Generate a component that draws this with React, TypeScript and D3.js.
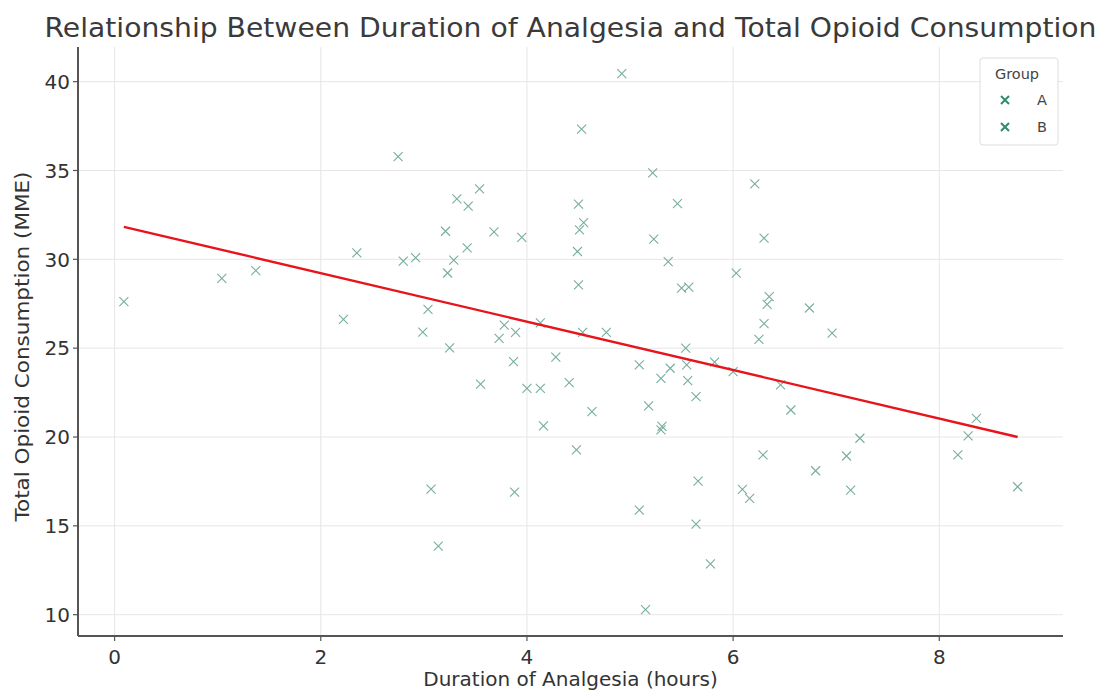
import React from "react";
import * as d3 from "d3";

// hours of analgesia and opioid consumption (MME)
const duration = [
  0.09, 1.04, 1.37, 2.22, 2.35, 2.75, 2.8, 2.92, 2.99, 3.04,
  3.07, 3.14, 3.21, 3.23, 3.25, 3.29, 3.32, 3.43, 3.42, 3.54,
  3.55, 3.68, 3.73, 3.78, 3.87, 3.89, 3.88, 3.95, 4.0, 4.13,
  4.13, 4.16, 4.28, 4.41, 4.48, 4.49, 4.5, 4.5, 4.51, 4.55,
  4.53, 4.54, 4.63, 4.77, 4.92, 5.09, 5.09, 5.15, 5.18, 5.22,
  5.23, 5.3, 5.31, 5.3, 5.37, 5.39, 5.46, 5.5, 5.57, 5.54,
  5.55, 5.56, 5.64, 5.66, 5.64, 5.78, 5.82, 6.0, 6.03, 6.09,
  6.16, 6.21, 6.25, 6.29, 6.3, 6.3, 6.33, 6.35, 6.46, 6.56,
  6.74, 6.8, 6.96, 7.1, 7.14, 7.23, 8.18, 8.28, 8.36, 8.76,
];
const consumption = [
  27.62, 28.93, 29.37, 26.62, 30.36, 35.78, 29.9, 30.09, 25.9, 27.18,
  17.07, 13.86, 31.58, 29.23, 25.01, 29.95, 33.4, 32.99, 30.64, 33.96,
  22.98, 31.54, 25.55, 26.3, 24.24, 25.89, 16.9, 31.23, 22.74, 22.74,
  26.42, 20.62, 24.49, 23.06, 19.27, 30.44, 28.56, 33.11, 31.66, 32.07,
  37.33, 25.89, 21.43, 25.89, 40.45, 24.06, 15.89, 10.29, 21.75, 34.86,
  31.14, 20.4, 20.6, 23.3, 29.87, 23.87, 33.13, 28.38, 28.43, 25.0,
  24.06, 23.17, 22.27, 17.52, 15.1, 12.86, 24.21, 23.68, 29.22, 17.05,
  16.55, 34.25, 25.5, 18.99, 26.38, 31.19, 27.46, 27.9, 22.93, 21.52,
  27.26, 18.1, 25.85, 18.93, 17.01, 19.93, 18.99, 20.06, 21.05, 17.2,
];

// fitted line end points
const fitX = [0.09, 8.76];
const fitY = [31.83, 20.0];

const groups = ["A", "B"];
const xTicks = [0, 2, 4, 6, 8];
const yTicks = [10, 15, 20, 25, 30, 35, 40];

const W = 1101;
const H = 690;
const margin = { top: 47, right: 38, bottom: 54, left: 78 };
const font = "DejaVu Sans, sans-serif";
const pointColor = "#5f9f8f";
const legendColor = "#2f8a70";

export default function App() {
  const innerW = W - margin.left - margin.right;
  const innerH = H - margin.top - margin.bottom;

  const x = d3.scaleLinear().domain([-0.355, 9.2]).range([0, innerW]);
  const y = d3.scaleLinear().domain([8.8, 41.95]).range([innerH, 0]);

  const line = d3
    .line<number>()
    .x((d) => x(fitX[d]))
    .y((d) => y(fitY[d]));

  const s = 4.5; // half size of the x marker

  return (
    <svg
      width={W}
      height={H}
      style={{ position: "absolute", left: 0, top: 0, background: "#fff" }}
      fontFamily={font}
    >
      <text
        x={margin.left + innerW / 2}
        y={37}
        textAnchor="middle"
        fontSize={26.5}
        textLength={1052}
        lengthAdjust="spacingAndGlyphs"
        fill="#3a3a3a"
      >
        Relationship Between Duration of Analgesia and Total Opioid Consumption
      </text>

      <g transform={`translate(${margin.left},${margin.top})`}>
        {/* grid */}
        {xTicks.map((t) => (
          <line key={"gx" + t} x1={x(t)} x2={x(t)} y1={0} y2={innerH} stroke="#e6e6e6" />
        ))}
        {yTicks.map((t) => (
          <line key={"gy" + t} x1={0} x2={innerW} y1={y(t)} y2={y(t)} stroke="#e6e6e6" />
        ))}

        {/* points */}
        {duration.map((d, i) => {
          const cx = x(d);
          const cy = y(consumption[i]);
          return (
            <path
              key={i}
              d={`M${cx - s},${cy - s}L${cx + s},${cy + s}M${cx - s},${cy + s}L${cx + s},${cy - s}`}
              stroke={pointColor}
              strokeWidth={1.1}
              strokeOpacity={0.85}
              fill="none"
            />
          );
        })}

        {/* regression line */}
        <path d={line([0, 1]) || ""} stroke="#e8141c" strokeWidth={2.4} fill="none" />

        {/* axes */}
        <line x1={0} x2={0} y1={0} y2={innerH} stroke="#555" strokeWidth={2} />
        <line x1={0} x2={innerW} y1={innerH} y2={innerH} stroke="#555" strokeWidth={2} />
        {xTicks.map((t) => (
          <g key={"tx" + t} transform={`translate(${x(t)},${innerH})`}>
            <line y1={0} y2={5} stroke="#555" strokeWidth={1.2} />
            <text y={28} textAnchor="middle" fontSize={20} fill="#333">
              {t}
            </text>
          </g>
        ))}
        {yTicks.map((t) => (
          <g key={"ty" + t} transform={`translate(0,${y(t)})`}>
            <line x1={-5} x2={0} stroke="#555" strokeWidth={1.2} />
            <text x={-8} dy="0.36em" textAnchor="end" fontSize={20} fill="#333">
              {t}
            </text>
          </g>
        ))}

        <text
          x={innerW / 2}
          y={H - margin.top - 4}
          textAnchor="middle"
          fontSize={20}
          fill="#333"
        >
          Duration of Analgesia (hours)
        </text>
        <text
          transform={`translate(${-49},${innerH / 2 + 5}) rotate(-90)`}
          textAnchor="middle"
          fontSize={20}
          textLength={350}
          lengthAdjust="spacingAndGlyphs"
          fill="#333"
        >
          Total Opioid Consumption (MME)
        </text>

        {/* legend */}
        <g transform={`translate(${innerW - 83},${11})`}>
          <rect width={78} height={87} rx={3} fill="#fff" stroke="#ddd" />
          <text x={37} y={21} textAnchor="middle" fontSize={14.5} fill="#444">
            Group
          </text>
          {groups.map((g, i) => {
            const cy = 42 + i * 27;
            const cx = 25;
            return (
              <g key={g}>
                <path
                  d={`M${cx - 4},${cy - 4}L${cx + 4},${cy + 4}M${cx - 4},${cy + 4}L${cx + 4},${cy - 4}`}
                  stroke={legendColor}
                  strokeWidth={2}
                />
                <text x={57} y={cy} dy="0.35em" fontSize={14.5} fill="#444">
                  {g}
                </text>
              </g>
            );
          })}
        </g>
      </g>
    </svg>
  );
}
